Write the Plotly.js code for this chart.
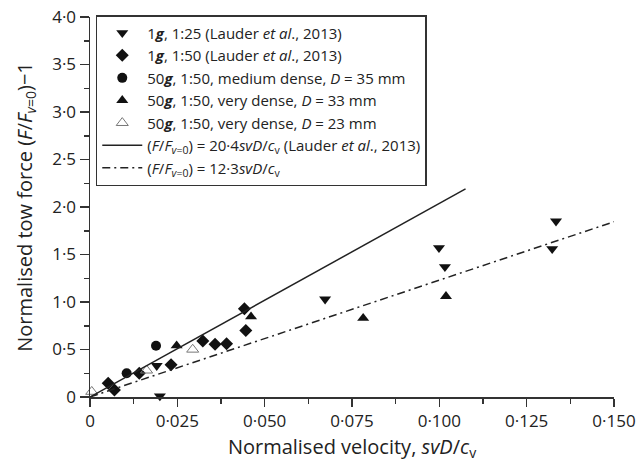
<!DOCTYPE html>
<html><head><meta charset="utf-8">
<script src="https://cdn.plot.ly/plotly-3.0.1.min.js"></script>
<style>body{margin:0;background:#fff}#chart{width:638px;height:468px}</style>
</head><body><div id="chart"></div>
<script>
// 1g, 1:25 (Lauder et al., 2013)
const g1s25X = [0.0191, 0.0200, 0.0673, 0.0999, 0.1016, 0.1323, 0.1334];
const g1s25Y = [0.33, 0.01, 1.03, 1.57, 1.37, 1.56, 1.85];
// 1g, 1:50 (Lauder et al., 2013)
const g1s50X = [0.0052, 0.0070, 0.0141, 0.0232, 0.0323, 0.0358, 0.0391, 0.0442, 0.0446];
const g1s50Y = [0.144, 0.074, 0.25, 0.34, 0.59, 0.555, 0.56, 0.93, 0.70];
// 50g, 1:50, medium dense, D = 35 mm
const g50medX = [0.0105, 0.0189];
const g50medY = [0.25, 0.54];
// 50g, 1:50, very dense, D = 33 mm
const g50d33X = [0.0248, 0.0461, 0.0782, 0.1019];
const g50d33Y = [0.54, 0.845, 0.83, 1.06];
// 50g, 1:50, very dense, D = 23 mm
const g50d23X = [0.0005, 0.0162, 0.0294];
const g50d23Y = [0.056, 0.28, 0.50];
// fitted lines (endpoints)
const fit204X = [0, 0.1075];
const fit204Y = [0, 2.19];
const fit123X = [0, 0.15];
const fit123Y = [0, 1.845];
// ticks
const xTickVals = [0, 0.025, 0.05, 0.075, 0.1, 0.125, 0.15];
const xTickText = ['0', '0·025', '0·050', '0·075', '0·100', '0·125', '0·150'];
const xMinorVals = [0.0125, 0.0375, 0.0625, 0.0875, 0.1125, 0.1375];
const yTickVals = [0, 0.5, 1, 1.5, 2, 2.5, 3, 3.5, 4];
const yTickText = ['0', '0·5', '1·0', '1·5', '2·0', '2·5', '3·0', '3·5', '4·0'];
const yMinorVals = [0.25, 0.75, 1.25, 1.75, 2.25, 2.75, 3.25, 3.75];

const ink = '#111';
const FONT = '"Open Sans", "Noto Sans", sans-serif';

const traces = [
  {x: g1s25X, y: g1s25Y, mode: 'markers', type: 'scatter', cliponaxis: false,
   name: '1<b><i>g</i></b>, 1:25 (Lauder <i>et al</i>., 2013)',
   marker: {symbol: 'triangle-down', size: 10.5, color: ink}},
  {x: g1s50X, y: g1s50Y, mode: 'markers', type: 'scatter', cliponaxis: false,
   name: '1<b><i>g</i></b>, 1:50 (Lauder <i>et al</i>., 2013)',
   marker: {symbol: 'diamond', size: 10, color: ink}},
  {x: g50medX, y: g50medY, mode: 'markers', type: 'scatter', cliponaxis: false,
   name: '50<b><i>g</i></b>, 1:50, medium dense, <i>D</i> = 35 mm',
   marker: {symbol: 'circle', size: 10, color: ink}},
  {x: g50d33X, y: g50d33Y, mode: 'markers', type: 'scatter', cliponaxis: false,
   name: '50<b><i>g</i></b>, 1:50, very dense, <i>D</i> = 33 mm',
   marker: {symbol: 'triangle-up', size: 10.5, color: ink}},
  {x: g50d23X, y: g50d23Y, mode: 'markers', type: 'scatter', cliponaxis: false,
   name: '50<b><i>g</i></b>, 1:50, very dense, <i>D</i> = 23 mm',
   marker: {symbol: 'triangle-up-open', size: 10.5, color: '#777', line: {width: 1, color: '#777'}}},
  {x: fit204X, y: fit204Y, mode: 'lines', type: 'scatter',
   name: '(<i>F</i>/<i>F</i><sub><i>v</i>=0</sub>) = 20·4<i>svD</i>/<i>c</i><sub>v</sub> (Lauder <i>et al</i>., 2013)',
   line: {color: '#222', width: 1.5}},
  {x: fit123X, y: fit123Y, mode: 'lines', type: 'scatter',
   name: '(<i>F</i>/<i>F</i><sub><i>v</i>=0</sub>) = 12·3<i>svD</i>/<i>c</i><sub>v</sub>',
   line: {color: '#222', width: 1.5, dash: '8px,4px,2px,4px'}}
];

const layout = {
  width: 638, height: 468,
  margin: {l: 90, r: 24, t: 17, b: 71},
  paper_bgcolor: '#fff', plot_bgcolor: '#fff',
  font: {family: FONT, color: '#222', size: 15},
  showlegend: true,
  legend: {
    x: 0.011, y: 1.005, xanchor: 'left', yanchor: 'top',
    bgcolor: '#fff', bordercolor: '#333', borderwidth: 1.5,
    font: {family: FONT, size: 15, color: '#222'},
    tracegroupgap: 0, itemwidth: 40
  },
  xaxis: {
    range: [0, 0.15], showgrid: false, zeroline: false,
    showline: true, linecolor: '#333', linewidth: 1.5,
    ticks: 'outside', ticklen: 8, tickwidth: 1.5, tickcolor: '#333',
    tickmode: 'array', tickvals: xTickVals, ticktext: xTickText,
    tickfont: {family: FONT, size: 17, color: '#222'},
    minor: {tickmode: 'array', tickvals: xMinorVals, ticks: 'outside', ticklen: 5, tickwidth: 1.5, tickcolor: '#333', showgrid: false},
    title: {text: 'Normalised velocity, <i>svD</i>/<i>c</i><sub>v</sub>', font: {family: FONT, size: 20, color: '#222'}, standoff: 9},
    automargin: false
  },
  yaxis: {
    range: [0, 4], showgrid: false, zeroline: false,
    showline: true, linecolor: '#333', linewidth: 1.5,
    ticks: 'outside', ticklen: 9, tickwidth: 1.5, tickcolor: '#333',
    tickmode: 'array', tickvals: yTickVals, ticktext: yTickText,
    tickfont: {family: FONT, size: 17, color: '#222'},
    minor: {tickmode: 'array', tickvals: yMinorVals, ticks: 'outside', ticklen: 5, tickwidth: 1.5, tickcolor: '#333', showgrid: false},
    title: {text: 'Normalised tow force (<i>F</i>/<i>F</i><sub><i>v</i>=0</sub>)−1', font: {family: FONT, size: 20, color: '#222'}, standoff: 14},
    automargin: false
  }
};

Plotly.newPlot('chart', traces, layout, {displayModeBar: false, staticPlot: true});
</script>
</body></html>
